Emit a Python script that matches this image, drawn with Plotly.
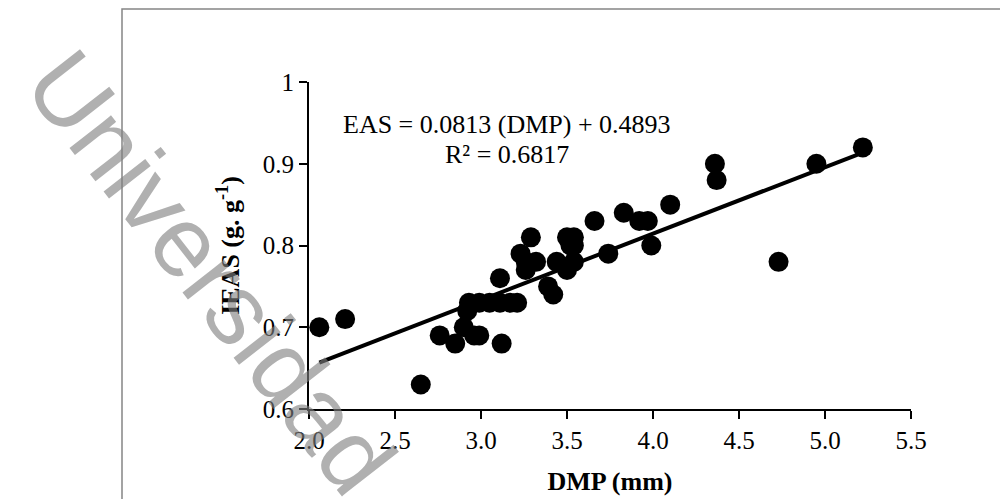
import plotly.graph_objects as go

# Data
dmp = [2.06, 2.21, 2.65, 2.76, 2.85, 2.90, 2.92, 2.93, 2.96, 2.99, 2.99, 3.05,
       3.11, 3.11, 3.12, 3.17, 3.21, 3.23, 3.26, 3.26, 3.29, 3.32, 3.39, 3.42,
       3.44, 3.50, 3.54, 3.52, 3.54, 3.50, 3.54, 3.66, 3.74, 3.83, 3.92, 3.97,
       3.99, 4.10, 4.36, 4.37, 4.73, 4.95, 5.22]
ieas = [0.70, 0.71, 0.63, 0.69, 0.68, 0.70, 0.72, 0.73, 0.69, 0.69, 0.73, 0.73,
        0.73, 0.76, 0.68, 0.73, 0.73, 0.79, 0.78, 0.77, 0.81, 0.78, 0.75, 0.74,
        0.78, 0.81, 0.81, 0.80, 0.80, 0.77, 0.78, 0.83, 0.79, 0.84, 0.83, 0.83,
        0.80, 0.85, 0.90, 0.88, 0.78, 0.90, 0.92]
slope = 0.0813
intercept = 0.4893
r2 = 0.6817

x_ticks = [2.0, 2.5, 3.0, 3.5, 4.0, 4.5, 5.0, 5.5]
x_ticklabels = ["2.0", "2.5", "3.0", "3.5", "4.0", "4.5", "5.0", "5.5"]
y_ticks = [0.6, 0.7, 0.8, 0.9, 1.0]
y_ticklabels = ["0.6", "0.7", "0.8", "0.9", "1"]

# page body has an 8px margin: figure drawn from (8, 8)
OFF = 8
W, H = 1008 - OFF, 499 - OFF
PLOT_L, PLOT_R, PLOT_T, PLOT_B = 309, 911, 82, 409   # screen pixels
ML = PLOT_L - OFF
MR = W - (PLOT_R - OFF)
MT = PLOT_T - OFF
MB = H - (PLOT_B - OFF)
PW, PH = W - ML - MR, H - MT - MB


def px_to_paper(px, py):
    """screen pixel -> paper coordinates"""
    fx, fy = px - OFF, py - OFF
    return (fx - ML) / PW, (H - MB - fy) / PH


serif = "Liberation Serif, Times New Roman, serif"
TICK_FS = 25
TEXT_FS = 26

fit_x = [min(dmp), max(dmp)]
fit_y = [slope * v + intercept for v in fit_x]

fig = go.Figure()
fig.add_trace(go.Scatter(x=dmp, y=ieas, mode="markers",
                         marker=dict(size=20, color="black"),
                         showlegend=False, cliponaxis=False))
fig.add_trace(go.Scatter(x=fit_x, y=fit_y, mode="lines",
                         line=dict(color="black", width=4),
                         showlegend=False))

fig.update_xaxes(range=[2.0, 5.5], tickvals=x_ticks, ticktext=x_ticklabels,
                 showline=True, linecolor="black", linewidth=2,
                 ticks="outside", ticklen=8, tickwidth=2, tickcolor="black",
                 showgrid=False, zeroline=False,
                 tickfont=dict(family=serif, size=TICK_FS, color="black"),
                 title=dict(text="<b>DMP (mm)</b>", standoff=19,
                            font=dict(family=serif, size=TEXT_FS, color="black")))
fig.update_yaxes(range=[0.6, 1.0], tickvals=y_ticks, ticktext=y_ticklabels,
                 showline=True, linecolor="black", linewidth=2,
                 ticks="outside", ticklen=8, tickwidth=2, tickcolor="black",
                 showgrid=False, zeroline=False,
                 tickfont=dict(family=serif, size=TICK_FS, color="black"),
                 title=dict(text="<b>IEAS (g. g<sup>-1</sup>)</b>", standoff=16,
                            font=dict(family=serif, size=TEXT_FS, color="black")))

ex, ey = px_to_paper(507, 124)
rx, ry = px_to_paper(507, 154)
fig.add_annotation(xref="paper", yref="paper", x=ex, y=ey, showarrow=False,
                   xanchor="center", yanchor="middle",
                   text=f"EAS = {slope} (DMP) + {intercept}",
                   font=dict(family=serif, size=TEXT_FS, color="black"))
fig.add_annotation(xref="paper", yref="paper", x=rx, y=ry, showarrow=False,
                   xanchor="center", yanchor="middle",
                   text=f"R² = {r2}",
                   font=dict(family=serif, size=TEXT_FS, color="black"))

# outer frame
fx0, fy1 = px_to_paper(122, 9)
fx1, fy0 = px_to_paper(1015, 505)
fig.add_shape(type="rect", xref="paper", yref="paper",
              x0=fx0, x1=fx1, y0=fy0, y1=fy1,
              line=dict(color="#858585", width=1.5), layer="below")

# watermark
wx, wy = px_to_paper(211, 272)
fig.add_annotation(xref="paper", yref="paper", x=wx, y=wy, showarrow=False,
                   xanchor="center", yanchor="middle",
                   text="Universidad", textangle=52,
                   font=dict(family="Liberation Sans, Arial, sans-serif",
                             size=100, color="rgba(128,128,128,0.62)"))

fig.update_layout(width=W, height=H,
                  margin=dict(l=ML, r=MR, t=MT, b=MB, autoexpand=False),
                  paper_bgcolor="white", plot_bgcolor="white")

fig.write_html("out.html")
